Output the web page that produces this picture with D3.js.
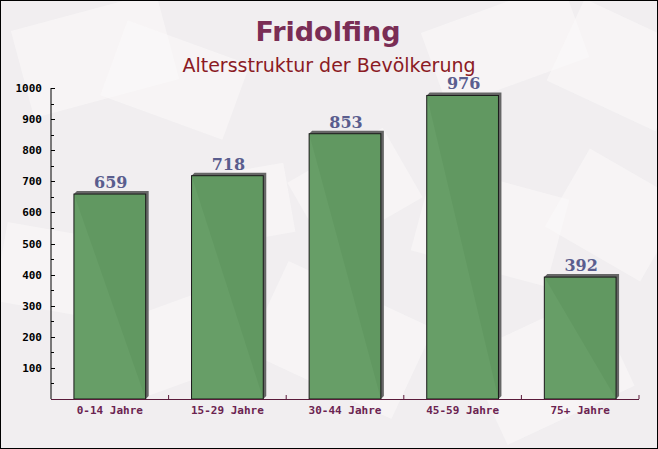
<!DOCTYPE html>
<html><head><meta charset="utf-8">
<script src="https://cdn.jsdelivr.net/npm/d3@7"></script>
<style>html,body{margin:0;padding:0;background:#fff;}svg{display:block;}</style>
</head><body>
<svg id="c" width="658" height="449"></svg>
<script>
const categories = ["0-14 Jahre","15-29 Jahre","30-44 Jahre","45-59 Jahre","75+ Jahre"];
const values = [659,718,853,976,392];
const yTicks = [100,200,300,400,500,600,700,800,900,1000];
const title = "Fridolfing";
const subtitle = "Altersstruktur der Bevölkerung";

const W = 658, H = 449;
const m = {left:51, right:19, top:88, bottom:50};
const svg = d3.select("#c");

// background
svg.append("rect").attr("x",0).attr("y",0).attr("width",W).attr("height",H).attr("fill","#f1eef0");
const deco = [[20,10,150,90,-15],[110,40,130,80,20],[430,5,150,80,-20],[560,20,120,90,25],[300,150,110,80,-30],
  [420,180,140,90,15],[120,300,130,80,-20],[0,230,100,80,10],[260,290,160,100,25],[480,320,140,100,-25],[560,170,110,90,30],[200,170,90,70,-10]];
svg.append("g").selectAll("rect").data(deco).join("rect")
  .attr("x",d=>d[0]).attr("y",d=>d[1]).attr("width",d=>d[2]).attr("height",d=>d[3])
  .attr("transform",d=>`rotate(${d[4]},${d[0]+d[2]/2},${d[1]+d[3]/2})`)
  .attr("fill","#fbf9f9").attr("opacity",0.55);

const x = d3.scaleBand().domain(categories).range([m.left, W-m.right]).paddingInner(0.39).paddingOuter(0.195);
const xb = d3.scaleBand().domain(categories).range([m.left, W-m.right]);
const y = d3.scaleLinear().domain([0,1000]).range([H-m.bottom, m.top]);

// shadows
const s = 3;
svg.append("g").selectAll("path").data(values).join("path")
  .attr("d",(d,i)=>{const x0=x(categories[i]), x1=x0+x.bandwidth(), y0=y(d), yb=y(0);
    return `M${x0},${y0}L${x0+s},${y0-s}L${x1+s},${y0-s}L${x1+s},${yb-s}L${x1},${yb}Z`;})
  .attr("fill","#666666");
// bars
svg.append("g").selectAll("rect").data(values).join("rect")
  .attr("x",(d,i)=>x(categories[i])).attr("y",d=>y(d))
  .attr("width",x.bandwidth()).attr("height",d=>y(0)-y(d))
  .attr("fill","#619a61").attr("fill-opacity",0.96).attr("stroke","#1a1a1a").attr("stroke-width",1);

// value labels
svg.append("g").selectAll("text").data(values).join("text")
  .attr("x",(d,i)=>x(categories[i])+x.bandwidth()/2+1).attr("y",d=>y(d)-6)
  .attr("text-anchor","middle").attr("font-family","DejaVu Serif").attr("font-weight","bold")
  .attr("font-size",16).attr("fill","#5a5d8e").text(d=>d);

// y axis
const minor = d3.range(50,1000,100);
const ya = svg.append("g").attr("transform",`translate(${m.left},0)`);
ya.append("line").attr("x1",0).attr("x2",0).attr("y1",y(0)).attr("y2",y(1000)).attr("stroke","#000");
ya.selectAll("line.maj").data(yTicks).join("line").attr("class","maj")
  .attr("x1",0).attr("x2",4).attr("y1",d=>Math.round(y(d))+0.5).attr("y2",d=>Math.round(y(d))+0.5).attr("stroke","#000");
ya.selectAll("line.min").data(minor).join("line").attr("class","min")
  .attr("x1",0).attr("x2",3).attr("y1",d=>Math.round(y(d))+0.5).attr("y2",d=>Math.round(y(d))+0.5).attr("stroke","#000");
ya.selectAll("text").data(yTicks).join("text")
  .attr("x",-9).attr("y",d=>y(d)+4).attr("text-anchor","end")
  .attr("font-family","DejaVu Sans Mono").attr("font-weight","bold").attr("font-size",11).attr("fill","#000").text(d=>d);

// x axis
const xa = svg.append("g");
xa.append("line").attr("x1",m.left).attr("x2",W-m.right).attr("y1",y(0)+0.5).attr("y2",y(0)+0.5).attr("stroke","#5a1a3a");
xa.selectAll("line.t").data(categories.slice(1).concat(["end"])).join("line").attr("class","t")
  .attr("x1",(d,i)=>i<categories.length-1?xb(d):W-m.right).attr("x2",(d,i)=>i<categories.length-1?xb(d):W-m.right)
  .attr("y1",y(0)).attr("y2",y(0)-4).attr("stroke","#5a1a3a");
xa.selectAll("text").data(categories).join("text")
  .attr("x",d=>x(d)+x.bandwidth()/2).attr("y",y(0)+15).attr("text-anchor","middle")
  .attr("font-family","DejaVu Sans Mono").attr("font-weight","bold").attr("font-size",11).attr("fill","#6b2350").text(d=>d);

// titles
svg.append("text").attr("x",W/2-1).attr("y",41).attr("text-anchor","middle")
  .attr("font-family","DejaVu Sans").attr("font-weight","bold").attr("font-size",27).attr("fill","#7a2d55").text(title);
svg.append("text").attr("x",W/2).attr("y",72).attr("text-anchor","middle")
  .attr("font-family","DejaVu Sans").attr("font-size",19).attr("fill","#8b1a24").text(subtitle);

// border
svg.append("rect").attr("x",0.5).attr("y",0.5).attr("width",W-1).attr("height",H-1).attr("fill","none").attr("stroke","#000");
</script>
</body></html>
